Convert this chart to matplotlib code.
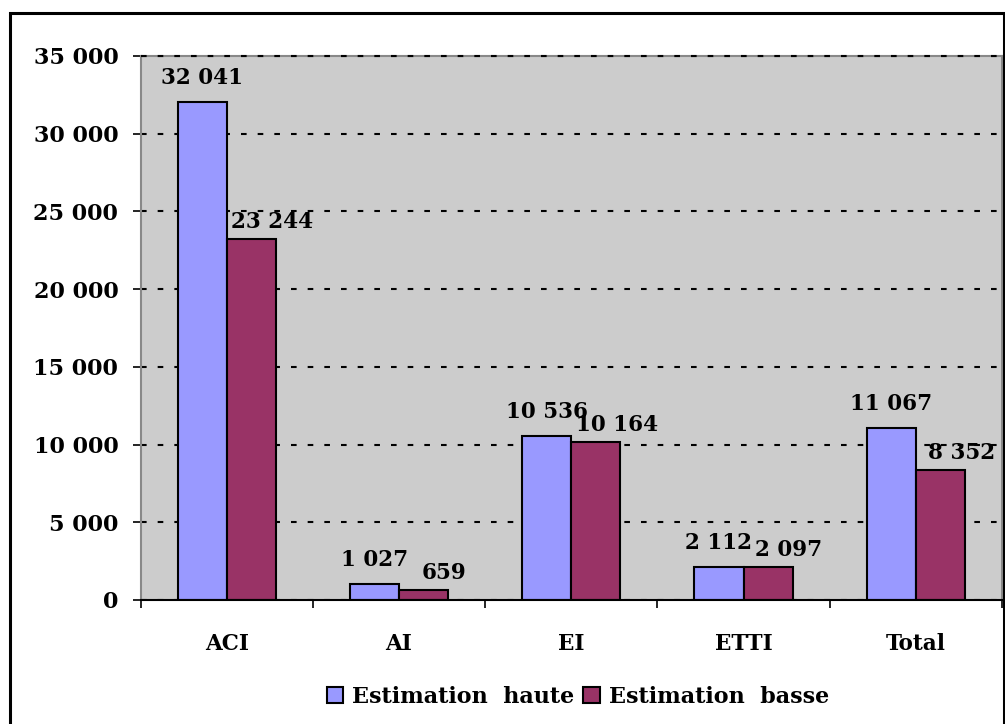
import matplotlib
matplotlib.use("Agg")
import matplotlib.pyplot as plt
from matplotlib.patches import Rectangle
import numpy as np

categories = ["ACI", "AI", "EI", "ETTI", "Total"]
haute = [32041, 1027, 10536, 2112, 11067]
basse = [23244, 659, 10164, 2097, 8352]
haute_labels = ["32 041", "1 027", "10 536", "2 112", "11 067"]
basse_labels = ["23 244", "659", "10 164", "2 097", "8 352"]
series_names = ["Estimation  haute", "Estimation  basse"]
yticks = [0, 5000, 10000, 15000, 20000, 25000, 30000, 35000]
ytick_labels = ["0", "5 000", "10 000", "15 000", "20 000", "25 000", "30 000", "35 000"]

plt.rcParams['font.family'] = ['DejaVu Serif']
plt.rcParams['font.weight'] = 'bold'
FS = 15.5

fig = plt.figure(figsize=(10.05, 7.24), dpi=100)
ax = fig.add_axes([140.5/1005, 1-600/724, (1002-140.5)/1005, (600-56)/724])
ax.set_facecolor("#CCCCCC")

x = np.arange(len(categories))
w = 0.285
c_h = "#9999FF"
c_b = "#993366"
b1 = ax.bar(x - w, haute, width=w, align='edge', color=c_h, edgecolor='black', linewidth=1.5, zorder=3, label=series_names[0])
b2 = ax.bar(x, basse, width=w, align='edge', color=c_b, edgecolor='black', linewidth=1.5, zorder=3, label=series_names[1])

for xi, v, s in zip(x, haute, haute_labels):
    ax.annotate(s, (xi - w/2, v), xytext=(0, 13), textcoords='offset points',
                ha='center', va='baseline', fontsize=FS, fontweight='bold', zorder=4)
for xi, v, s in zip(x, basse, basse_labels):
    ax.annotate(s, (xi + w/2, v), xytext=(15, 8), textcoords='offset points',
                ha='center', va='baseline', fontsize=FS, fontweight='bold', zorder=4)

ax.set_xlim(-0.5, len(categories) - 0.5)
ax.set_ylim(0, 35000)
ax.set_yticks(yticks)
ax.set_yticklabels(ytick_labels, fontsize=FS + 0.5, fontweight='bold')
ax.set_xticks(x)
ax.set_xticklabels(categories, fontsize=FS, fontweight='bold')
ax.set_xticks(np.arange(len(categories) + 1) - 0.5, minor=True)
ax.tick_params(axis='x', which='major', length=0, pad=24)
ax.tick_params(axis='x', which='minor', length=6, width=1.2, direction='out', color='black')
ax.tick_params(axis='y', length=6, width=1.2, pad=10, color='black')

dash = (0, (2.7, 5.3))
ax.yaxis.grid(True, color='black', linestyle=dash, linewidth=1.5, zorder=1)
ax.set_axisbelow(True)

for side in ['left', 'top', 'right']:
    ax.spines[side].set_color('#888888')
    ax.spines[side].set_linewidth(1.5)
ax.spines['bottom'].set_color('black')
ax.spines['bottom'].set_linewidth(1.5)
ax.spines['bottom'].set_zorder(5)
ax.axhline(yticks[-1], color='black', linestyle=dash, linewidth=1.5, zorder=2.6, clip_on=False)

leg = fig.legend(handles=[b1, b2], labels=series_names, loc='center',
                 bbox_to_anchor=(578/1005, 1-697/724), ncol=2, frameon=False,
                 prop={'family': 'DejaVu Serif', 'weight': 'bold', 'size': 16},
                 handlelength=0.75, handleheight=0.75, handletextpad=0.4, columnspacing=0.4)

fig.add_artist(Rectangle((10/1005, -0.05), (1003.5-10)/1005, 1.05 - 13/724,
                         transform=fig.transFigure, fill=False, edgecolor='black', linewidth=2.2))

fig.savefig("out.png", dpi=100)
